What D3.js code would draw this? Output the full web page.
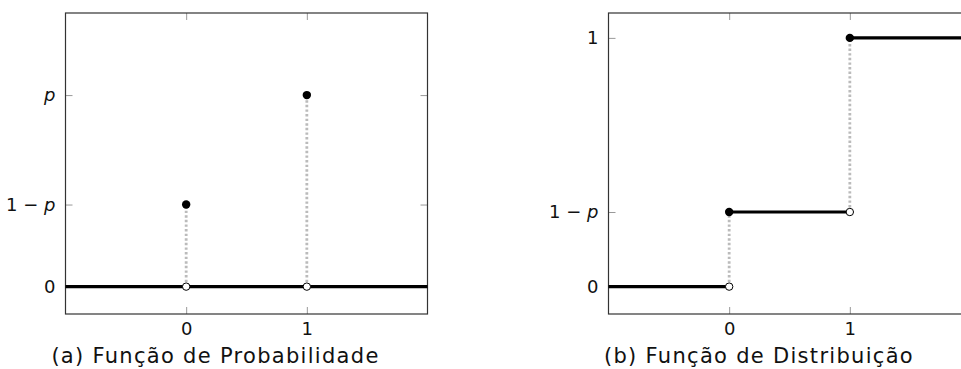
<!DOCTYPE html>
<html>
<head>
<meta charset="utf-8">
<script src="https://cdn.jsdelivr.net/npm/d3@7"></script>
<style>
  body { margin: 0; background: #fff; }
  text { font-family: "DejaVu Sans", sans-serif; fill: #111; }
</style>
</head>
<body>
<div id="graph"></div>
<script>
// values (p = 0.7)
var p = 0.7;
var pmfX = [0, 1];
var pmfY = [1 - p, p];
var cdfSteps = [
  {x0: -1, x1: 0, y: 0},
  {x0: 0, x1: 1, y: 1 - p},
  {x0: 1, x1: 2, y: 1}
];
var xTicks = [0, 1];
var pmfTicks = [0, 1 - p, p];
var pmfTickLabels = ["0", "1 − |p", "|p"];
var cdfTicks = [0, 1 - p, 1];
var cdfTickLabels = ["0", "1 − |p", "1"];
var captions = ["(a) Função de Probabilidade", "(b) Função de Distribuição"];

var w = 961, h = 369;
var svg = d3.select("#graph").append("svg").attr("width", w).attr("height", h);

function panel(left, yDomain, yTicks, yLabels) {
  var g = svg.append("g");
  var x = d3.scaleLinear().domain([-1, 2]).range([left, left + 362]);
  var y = d3.scaleLinear().domain(yDomain).range([314, 13]);

  // ticks inside, all four sides
  function styleAxis(sel) {
    sel.select(".domain").remove();
    sel.selectAll(".tick line").attr("stroke", "#999");
  }
  g.append("g").attr("transform", "translate(0,314)")
    .call(d3.axisBottom(x).tickValues(xTicks).tickSizeInner(-7).tickPadding(8).tickFormat(d3.format("d")))
    .call(styleAxis)
    .selectAll("text").attr("font-size", 18).attr("font-family", null);
  g.append("g").attr("transform", "translate(0,13)")
    .call(d3.axisTop(x).tickValues(xTicks).tickSizeInner(-7).tickFormat(""))
    .call(styleAxis);
  var ya = g.append("g").attr("transform", "translate(" + x(-1) + ",0)")
    .call(d3.axisLeft(y).tickValues(yTicks).tickSizeInner(-7).tickPadding(10).tickFormat(""))
    .call(styleAxis);
  ya.selectAll(".tick text").each(function(d, i) {
    var t = d3.select(this).attr("font-size", 18).attr("font-family", null);
    yLabels[i].split("|").forEach(function(part, j) {
      t.append("tspan").text(part).attr("font-style", j > 0 ? "italic" : null);
    });
  });
  g.append("g").attr("transform", "translate(" + x(2) + ",0)")
    .call(d3.axisRight(y).tickValues(yTicks).tickSizeInner(-7).tickFormat(""))
    .call(styleAxis);

  g.append("rect")
    .attr("x", x(-1)).attr("y", 13)
    .attr("width", x(2) - x(-1)).attr("height", 301)
    .attr("fill", "none").attr("stroke", "#333").attr("stroke-width", 1.2);
  return {g: g, x: x, y: y};
}

function stem(c, xv, ya, yb) {
  c.g.append("line")
    .attr("x1", c.x(xv)).attr("x2", c.x(xv))
    .attr("y1", c.y(ya)).attr("y2", c.y(yb))
    .attr("stroke", "#bbb").attr("stroke-width", 2.8)
    .attr("stroke-dasharray", "2.4,2.2");
}
function hline(c, x0, x1, yv) {
  c.g.append("line")
    .attr("x1", c.x(x0)).attr("x2", c.x(x1))
    .attr("y1", c.y(yv)).attr("y2", c.y(yv))
    .attr("stroke", "#000").attr("stroke-width", 3.2);
}
function dot(c, xv, yv, filled) {
  c.g.append("circle")
    .attr("cx", c.x(xv)).attr("cy", c.y(yv)).attr("r", filled ? 4.2 : 3.7)
    .attr("fill", filled ? "#000" : "#fff")
    .attr("stroke", "#000").attr("stroke-width", filled ? 0 : 1);
}

// (a) pmf
var a = panel(65.5, [-0.1, 1.0], pmfTicks, pmfTickLabels);
pmfX.forEach(function(v, i) { stem(a, v, 0, pmfY[i]); });
hline(a, -1, 2, 0);
pmfX.forEach(function(v, i) { dot(a, v, pmfY[i], true); dot(a, v, 0, false); });

// (b) cdf
var b = panel(608.5, [-0.11, 1.1], cdfTicks, cdfTickLabels);
cdfSteps.slice(1).forEach(function(s, i) { stem(b, s.x0, cdfSteps[i].y, s.y); });
cdfSteps.forEach(function(s) { hline(b, s.x0, s.x1, s.y); });
cdfSteps.slice(1).forEach(function(s, i) {
  dot(b, s.x0, s.y, true);
  dot(b, s.x0, cdfSteps[i].y, false);
});

svg.selectAll(".cap").data(captions).enter().append("text")
  .attr("class", "cap")
  .attr("x", function(d, i) { return i == 0 ? 215.5 : 759; })
  .attr("y", 363)
  .attr("text-anchor", "middle")
  .attr("font-size", 21)
  .attr("letter-spacing", 1.3)
  .text(function(d) { return d; });
</script>
</body>
</html>
